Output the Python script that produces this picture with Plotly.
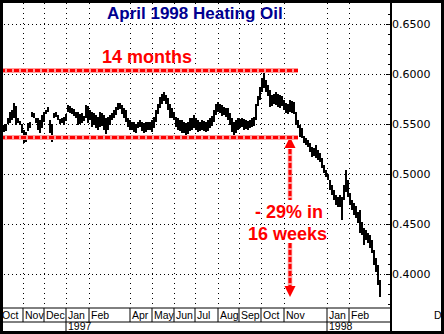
import pandas as pd
import plotly.graph_objects as go

title_text = "April 1998 Heating Oil"

highs = [.549,.550,.556,.562,.564,.571,.568,.556,.553,.550,
         .544,.542,.551,.552,.562,.561,.556,.556,.554,.559,
         .562,.564,.567,.554,.550,.561,.562,.559,.555,.556,
         .557,.560,.569,.568,.566,.565,.562,.562,.560,.561,
         .558,.569,.568,.564,.562,.561,.559,.557,.562,.561,
         .559,.556,.557,.559,.561,.564,.567,.571,.571,.569,
         .566,.564,.556,.554,.552,.552,.550,.552,.554,.552,
         .551,.552,.552,.552,.554,.557,.564,.570,.577,.580,
         .582,.579,.576,.570,.566,.562,.557,.556,.554,.554,
         .552,.551,.552,.556,.556,.559,.556,.554,.552,.554,
         .553,.552,.554,.556,.558,.564,.570,.572,.570,.569,
         .567,.566,.566,.561,.556,.552,.554,.556,.555,.556,
         .555,.554,.553,.554,.556,.557,.570,.578,.587,.596,
         .604,.594,.589,.584,.579,.580,.582,.580,.579,.578,
         .574,.571,.570,.574,.573,.572,.562,.554,.549,.546,
         .538,.536,.534,.531,.527,.526,.529,.524,.521,.516,
         .509,.504,.500,.494,.489,.484,.479,.477,.479,.477,
         .489,.504,.494,.481,.474,.471,.468,.462,.464,.452,
         .446,.444,.441,.439,.434,.424,.416,.409,.394]
lows = [.542,.543,.550,.551,.554,.556,.549,.551,.549,.541,
        .531,.532,.543,.546,.557,.556,.551,.544,.541,.546,
        .552,.560,.562,.541,.532,.556,.557,.554,.550,.551,
        .549,.553,.562,.561,.560,.558,.556,.549,.550,.551,
        .553,.556,.551,.554,.547,.549,.546,.544,.547,.548,
        .544,.540,.544,.549,.554,.556,.559,.564,.565,.560,
        .556,.552,.547,.544,.544,.542,.541,.546,.547,.543,
        .541,.542,.544,.544,.542,.546,.552,.560,.566,.570,
        .573,.570,.564,.556,.556,.554,.547,.544,.543,.541,
        .541,.539,.540,.543,.544,.546,.544,.542,.543,.544,
        .543,.542,.543,.546,.548,.552,.559,.562,.561,.558,
        .559,.557,.554,.549,.542,.539,.541,.544,.546,.547,
        .544,.545,.544,.546,.547,.548,.554,.568,.574,.582,
        .586,.582,.578,.567,.568,.570,.569,.567,.566,.568,
        .564,.561,.560,.562,.561,.560,.549,.546,.537,.536,
        .531,.529,.527,.522,.517,.518,.516,.514,.512,.506,
        .501,.497,.494,.484,.479,.474,.469,.467,.467,.454,
        .474,.482,.477,.469,.464,.459,.456,.451,.441,.439,
        .429,.434,.431,.426,.421,.409,.402,.389,.377]
opens = [.544,.546,.551,.553,.561,.558,.566,.553,.552,.549,
         .542,.534,.545,.548,.558,.560,.555,.553,.543,.548,
         .555,.561,.564,.552,.545,.557,.561,.558,.554,.552,
         .554,.554,.563,.566,.562,.564,.558,.560,.552,.556,
         .554,.558,.566,.555,.560,.550,.557,.546,.552,.558,
         .551,.545,.549,.553,.556,.558,.561,.565,.569,.567,
         .563,.560,.554,.550,.546,.549,.543,.547,.550,.548,
         .544,.548,.545,.549,.546,.551,.554,.562,.568,.574,
         .577,.576,.572,.566,.559,.561,.555,.549,.551,.546,
         .549,.544,.547,.549,.553,.548,.555,.546,.549,.546,
         .551,.546,.549,.551,.553,.555,.561,.567,.565,.567,
         .561,.564,.560,.556,.551,.544,.548,.551,.548,.552,
         .549,.552,.547,.550,.551,.553,.556,.569,.576,.585,
         .594,.590,.585,.581,.570,.576,.573,.578,.570,.575,
         .571,.566,.563,.567,.570,.564,.560,.551,.548,.539,
         .537,.533,.533,.529,.524,.519,.524,.518,.516,.514,
         .508,.503,.499,.493,.486,.481,.476,.471,.474,.470,
         .476,.487,.490,.480,.472,.466,.461,.458,.453,.445,
         .442,.436,.440,.433,.428,.423,.411,.404,.392]
closes = [.547,.549,.555,.560,.556,.568,.552,.555,.550,.543,
          .533,.540,.549,.551,.561,.557,.552,.546,.552,.557,
          .560,.563,.563,.543,.548,.560,.558,.555,.551,.555,
          .551,.559,.567,.563,.565,.559,.560,.551,.557,.553,
          .557,.567,.553,.562,.549,.558,.548,.553,.559,.550,
          .546,.550,.554,.557,.559,.562,.566,.569,.567,.562,
          .558,.554,.549,.546,.550,.544,.548,.551,.548,.545,
          .549,.544,.550,.546,.552,.555,.562,.568,.575,.578,
          .575,.572,.566,.558,.563,.556,.549,.552,.545,.550,
          .543,.548,.549,.554,.547,.557,.546,.550,.545,.552,
          .545,.550,.552,.554,.556,.562,.568,.565,.568,.561,
          .565,.559,.556,.551,.544,.549,.552,.547,.553,.549,
          .553,.547,.551,.552,.554,.556,.568,.576,.585,.594,
          .590,.585,.581,.570,.576,.573,.579,.570,.576,.571,
          .566,.563,.567,.570,.564,.569,.551,.548,.539,.541,
          .533,.534,.529,.524,.519,.524,.518,.516,.514,.508,
          .503,.499,.495,.486,.481,.476,.471,.474,.470,.459,
          .487,.490,.480,.472,.466,.461,.458,.453,.445,.442,
          .432,.440,.433,.428,.423,.411,.404,.392,.380]

dates = pd.bdate_range("1996-10-07", periods=len(highs), freq="2B")

# first trading day of each labelled month
month_starts = ["1996-10-01", "1996-11-01", "1996-12-02", "1997-01-01", "1997-02-03",
                "1997-04-01", "1997-05-01", "1997-06-02", "1997-07-01", "1997-08-01",
                "1997-09-01", "1997-10-01", "1997-11-03", "1998-01-01", "1998-02-02"]
month_labels = ["Oct", "Nov", "Dec", "Jan", "Feb", "Apr", "May", "Jun", "Jul", "Aug",
                "Sep", "Oct", "Nov", "Jan", "Feb"]
year_starts = ["1997-01-01", "1998-01-01"]
year_labels = ["1997", "1998"]

x_range = ["1996-10-01", "1998-04-01"]
y_range = [0.366, 0.671]
y_ticks = [0.40, 0.45, 0.50, 0.55, 0.60, 0.65]

# annotation values
range_start = "1996-10-01"
range_end = "1997-11-21"
top_level = 0.6035
bottom_level = 0.5365
arrow_date = "1997-11-11"
arrow_up_tip = 0.537
arrow_up_shaft = [0.525, 0.474]
arrow_down_shaft = [0.431, 0.388]
arrow_down_tip = 0.377

RED = "#FF0000"
PINK = "#FF9C9C"
FONT = "Liberation Sans"

fig = go.Figure()

fig.add_trace(go.Ohlc(
    x=dates, open=opens, high=highs, low=lows, close=closes,
    increasing=dict(line=dict(color="black", width=2)),
    decreasing=dict(line=dict(color="black", width=2)),
    tickwidth=0.4, hoverinfo="skip", showlegend=False,
))

# arrow shafts (pink underlay + red dashes)
for seg in (arrow_up_shaft, arrow_down_shaft):
    fig.add_trace(go.Scatter(x=[arrow_date, arrow_date], y=seg, mode="lines",
                             line=dict(color=PINK, width=4.5), hoverinfo="skip", showlegend=False))
    fig.add_trace(go.Scatter(x=[arrow_date, arrow_date], y=seg, mode="lines",
                             line=dict(color=RED, width=3, dash="5px,2px"), hoverinfo="skip", showlegend=False))
fig.add_trace(go.Scatter(x=[arrow_date, arrow_date], y=[arrow_up_tip, arrow_down_tip], mode="markers",
                         marker=dict(symbol=["arrow-up", "arrow-down"], size=11, color=RED,
                                     line=dict(width=0)),
                         hoverinfo="skip", showlegend=False))

shapes = []
for lvl in (top_level, bottom_level):
    shapes.append(dict(type="line", xref="x", yref="y", x0=range_start, x1=range_end, y0=lvl, y1=lvl,
                       line=dict(color=PINK, width=5), layer="above"))
    shapes.append(dict(type="line", xref="x", yref="y", x0=range_start, x1=range_end, y0=lvl, y1=lvl,
                       line=dict(color=RED, width=3, dash="5px,2px"), layer="above"))

# x-axis label panel
row1 = -14 / 305
row2 = -24.5 / 305
shapes.append(dict(type="line", xref="paper", yref="paper", x0=0, x1=1, y0=0, y1=0,
                   line=dict(color="black", width=1)))
shapes.append(dict(type="line", xref="paper", yref="paper", x0=0, x1=1, y0=row1, y1=row1,
                   line=dict(color="black", width=1)))
for d in month_starts:
    shapes.append(dict(type="line", xref="x", yref="paper", x0=d, x1=d, y0=0, y1=row1,
                       line=dict(color="black", width=1)))
for d in year_starts:
    shapes.append(dict(type="line", xref="x", yref="paper", x0=d, x1=d, y0=row1, y1=row2,
                       line=dict(color="black", width=1)))
# right axis line
shapes.append(dict(type="line", xref="paper", yref="paper", x0=1, x1=1, y0=-0.1, y1=1.02,
                   line=dict(color="black", width=2)))
# outer frame
shapes.append(dict(type="rect", xref="paper", yref="paper",
                   x0=1.5 / 391, x1=442.5 / 391, y0=(308 - 332.5) / 305, y1=(308 - 1.5) / 305,
                   line=dict(color="black", width=3), fillcolor="rgba(0,0,0,0)", layer="above"))

annotations = []
for d, lab in zip(month_starts, month_labels):
    annotations.append(dict(x=d, y=-7.3 / 305, xref="x", yref="paper", text=lab, showarrow=False,
                            xanchor="left", yanchor="middle", xshift=0,
                            font=dict(family=FONT, size=10.5, color="black")))
for d, lab in zip(year_starts, year_labels):
    annotations.append(dict(x=d, y=-18.3 / 305, xref="x", yref="paper", text=lab, showarrow=False,
                            xanchor="left", yanchor="middle",
                            font=dict(family=FONT, size=10.5, color="black")))
annotations.append(dict(x=432 / 391, y=-7.3 / 305, xref="paper", yref="paper", text="D.", showarrow=False,
                        xanchor="left", yanchor="middle", font=dict(family=FONT, size=10.5, color="black")))
annotations.append(dict(x=195 / 391, y=(308 - 14) / 305, xref="paper", yref="paper", text="<b>" + title_text + "</b>",
                        showarrow=False, xanchor="center", yanchor="middle",
                        font=dict(family=FONT, size=17, color="#000090")))
annotations.append(dict(x="1997-04-24", y=0.617, xref="x", yref="y", text="<b>14 months</b>",
                        showarrow=False, xanchor="center", yanchor="middle",
                        font=dict(family=FONT, size=18, color=RED)))
annotations.append(dict(x="1997-11-10", y=0.462, xref="x", yref="y", text="<b>- 29% in</b>",
                        showarrow=False, xanchor="center", yanchor="middle",
                        font=dict(family=FONT, size=18, color=RED)))
annotations.append(dict(x="1997-11-06", y=0.440, xref="x", yref="y", text="<b>16 weeks</b>",
                        showarrow=False, xanchor="center", yanchor="middle",
                        font=dict(family=FONT, size=18, color=RED)))

fig.update_layout(
    width=444, height=334,
    margin=dict(l=0, r=53, t=3, b=26),
    paper_bgcolor="white", plot_bgcolor="white",
    showlegend=False, hovermode=False,
    shapes=shapes, annotations=annotations,
    xaxis=dict(type="date", range=x_range, rangebreaks=[dict(bounds=["sat", "mon"])],
               rangeslider=dict(visible=False), tickmode="array", tickvals=month_starts,
               showticklabels=False, ticks="", showgrid=True, gridcolor="black", gridwidth=1,
               griddash="1px,4px", showline=False, zeroline=False, fixedrange=True),
    yaxis=dict(side="right", range=y_range, tickmode="array", tickvals=y_ticks, tickformat=".4f",
               ticks="inside", ticklen=5, tickcolor="black", tickwidth=1,
               minor=dict(dtick=0.01, tick0=0.4, ticks="inside", ticklen=3, tickcolor="black", showgrid=False),
               showgrid=True, gridcolor="black", gridwidth=1, griddash="1px,3px",
               showline=False, zeroline=False, fixedrange=True,
               tickfont=dict(family="DejaVu Sans", size=11, color="black")),
)

fig.write_html("out.html", config={"displayModeBar": False, "staticPlot": True})
